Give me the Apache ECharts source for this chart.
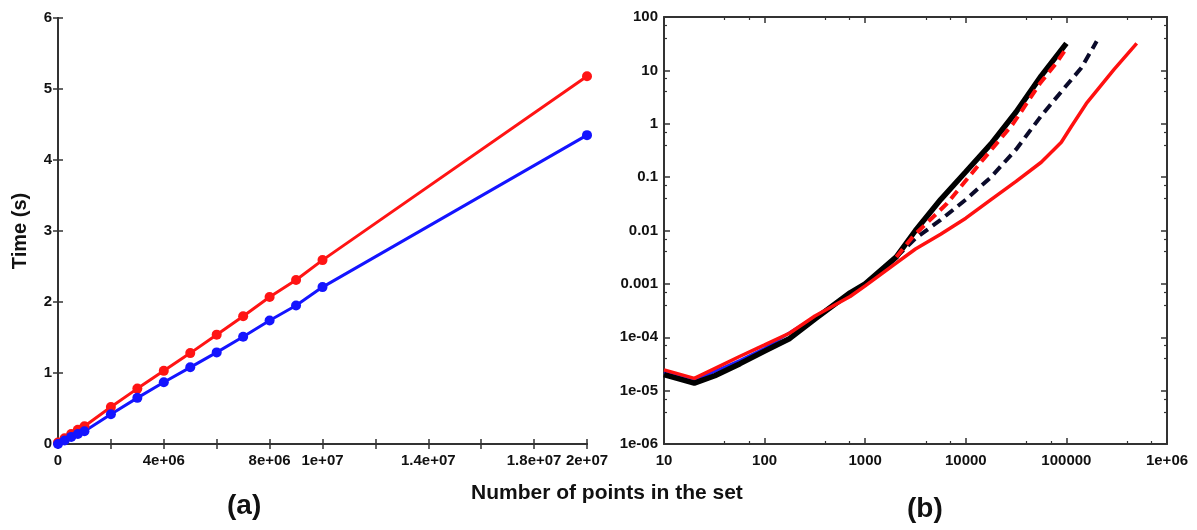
<!DOCTYPE html>
<html>
<head>
<meta charset="utf-8">
<script src="https://cdn.jsdelivr.net/npm/echarts@6/dist/echarts.min.js"></script>
<style>
html,body{margin:0;padding:0;background:#fff;}
#chart{width:1197px;height:530px;}
</style>
</head>
<body>
<div id="chart"></div>
<script>
// ---------- Panel (a): linear ----------
var xA = [0, 250000, 500000, 750000, 1000000, 2000000, 3000000, 4000000, 5000000, 6000000, 7000000, 8000000, 9000000, 10000000, 20000000];
var redA = [0.02, 0.08, 0.14, 0.2, 0.25, 0.52, 0.78, 1.03, 1.28, 1.54, 1.80, 2.07, 2.31, 2.59, 5.18];
var blueA = [0.0, 0.05, 0.1, 0.14, 0.18, 0.42, 0.65, 0.87, 1.08, 1.29, 1.51, 1.74, 1.95, 2.21, 4.35];
var xTickValsA = [0, 4000000, 8000000, 10000000, 14000000, 18000000, 20000000];
var xTickLabelsA = ['0', '4e+06', '8e+06', '1e+07', '1.4e+07', '1.8e+07', '2e+07'];

// ---------- Panel (b): log-log ----------
var blackSolidX = [10, 20, 32, 57, 100, 178, 316, 708, 1000, 2040, 3160, 5620, 10000, 17800, 31600, 56200, 100000];
var blackSolidY = [2.0e-5, 1.38e-5, 1.9e-5, 3.2e-5, 5.5e-5, 9.5e-5, 2.2e-4, 6.8e-4, 1.0e-3, 3.2e-3, 1.0e-2, 3.8e-2, 0.126, 0.42, 1.66, 7.9, 32];
var redSolidX = [10, 20, 57, 100, 178, 316, 708, 1000, 2000, 3160, 5620, 10000, 17800, 31600, 56200, 89000, 112000, 158000, 295000, 500000];
var redSolidY = [2.45e-5, 1.7e-5, 4.4e-5, 7.2e-5, 1.2e-4, 2.5e-4, 5.8e-4, 9.2e-4, 2.4e-3, 4.5e-3, 8.5e-3, 1.7e-2, 3.8e-2, 8.3e-2, 0.19, 0.45, 0.89, 2.4, 10.2, 32];
var blueSolidX = [10, 20, 57, 100, 316, 1000, 2000];
var blueSolidY = [2.2e-5, 1.55e-5, 3.7e-5, 6.2e-5, 2.4e-4, 1.0e-3, 2.9e-3];
var redDashX = [2040, 3000, 6500, 13800, 29500, 55000, 79000, 100000];
var redDashY = [3.2e-3, 7.8e-3, 3.2e-2, 0.18, 1.0, 5.8, 13.5, 26];
var navyDashX = [2040, 3160, 5620, 10000, 17800, 31600, 56200, 100000, 141000, 200000];
var navyDashY = [3.2e-3, 7.1e-3, 1.58e-2, 3.8e-2, 0.1, 0.33, 1.41, 5.2, 11.2, 35];
var xLabelsB = ['10', '100', '1000', '10000', '100000', '1e+06'];
var yLabelsB = ['1e-06', '1e-05', '1e-04', '0.001', '0.01', '0.1', '1', '10', '100'];

function pairs(xs, ys) { return xs.map(function (x, i) { return [x, ys[i]]; }); }

var FONT = '"Liberation Sans", Arial, sans-serif';
var axisLineStyle = { color: '#333', width: 2 };
var labelStyle = { fontFamily: FONT, fontWeight: 'bold', fontSize: 15, color: '#111' };
var tickStyle = { inside: true, length: 5, lineStyle: { color: '#333', width: 1.5 } };
var logTick = { inside: true, length: 6, lineStyle: { color: '#333', width: 1.5 } };
var minor = { show: true, splitNumber: 3, length: 3, lineStyle: { color: '#333', width: 1.2 } };

var chart = echarts.init(document.getElementById('chart'), null, { renderer: 'canvas' });

var option = {
  animation: false,
  backgroundColor: '#fff',
  grid: [
    { left: 58, top: 18, width: 529, height: 426 },
    { left: 664, top: 17, width: 503, height: 427 }
  ],
  xAxis: [
    {
      gridIndex: 0, type: 'value', min: 0, max: 20000000, interval: 2000000,
      axisLine: { lineStyle: axisLineStyle }, splitLine: { show: false }, axisTick: tickStyle,
      axisLabel: Object.assign({ margin: 9, formatter: function (v) {
        var i = xTickValsA.indexOf(Math.round(v));
        return i >= 0 ? xTickLabelsA[i] : '';
      } }, labelStyle)
    },
    {
      gridIndex: 0, type: 'value', position: 'top', min: 0, max: 20000000, interval: 2000000,
      axisLine: { lineStyle: axisLineStyle }, splitLine: { show: false }, axisTick: tickStyle,
      axisLabel: { show: false }
    },
    {
      gridIndex: 1, type: 'log', logBase: 10, min: 10, max: 1000000,
      axisLine: { lineStyle: axisLineStyle }, splitLine: { show: false }, axisTick: logTick, minorTick: minor,
      axisLabel: Object.assign({ margin: 9, formatter: function (v) {
        var e = Math.round(Math.log(v) / Math.LN10);
        return xLabelsB[e - 1] || '';
      } }, labelStyle)
    },
    {
      gridIndex: 1, type: 'log', logBase: 10, min: 10, max: 1000000, position: 'top',
      axisLine: { lineStyle: axisLineStyle }, splitLine: { show: false }, axisTick: logTick, minorTick: minor,
      axisLabel: { show: false }
    }
  ],
  yAxis: [
    {
      gridIndex: 0, type: 'value', min: 0, max: 6, interval: 1,
      name: 'Time (s)', nameLocation: 'middle', nameGap: 28,
      nameTextStyle: { fontFamily: FONT, fontWeight: 'bold', fontSize: 20, color: '#111' },
      axisLine: { lineStyle: axisLineStyle }, splitLine: { show: false }, axisTick: tickStyle,
      axisLabel: Object.assign({ margin: 6 }, labelStyle)
    },
    {
      gridIndex: 0, type: 'value', position: 'right', min: 0, max: 6, interval: 1,
      axisLine: { lineStyle: axisLineStyle }, splitLine: { show: false }, axisTick: tickStyle,
      axisLabel: { show: false }
    },
    {
      gridIndex: 1, type: 'log', logBase: 10, min: 1e-6, max: 100,
      axisLine: { lineStyle: axisLineStyle }, splitLine: { show: false }, axisTick: logTick, minorTick: minor,
      axisLabel: Object.assign({ margin: 6, formatter: function (v) {
        var e = Math.round(Math.log(v) / Math.LN10);
        return yLabelsB[e + 6] || '';
      } }, labelStyle)
    },
    {
      gridIndex: 1, type: 'log', logBase: 10, min: 1e-6, max: 100, position: 'right',
      axisLine: { lineStyle: axisLineStyle }, splitLine: { show: false }, axisTick: logTick, minorTick: minor,
      axisLabel: { show: false }
    }
  ],
  series: [
    {
      type: 'line', xAxisIndex: 0, yAxisIndex: 0, data: pairs(xA, redA),
      symbol: 'circle', symbolSize: 10, itemStyle: { color: '#ff1414' },
      lineStyle: { color: '#ff1414', width: 3 }
    },
    {
      type: 'line', xAxisIndex: 0, yAxisIndex: 0, data: pairs(xA, blueA),
      symbol: 'circle', symbolSize: 10, itemStyle: { color: '#1414ff' },
      lineStyle: { color: '#1414ff', width: 3 }
    },
    {
      type: 'line', xAxisIndex: 2, yAxisIndex: 2, data: pairs(navyDashX, navyDashY),
      symbol: 'none', lineStyle: { color: '#0a0a2a', width: 4, type: [10, 6] }
    },
    {
      type: 'line', xAxisIndex: 2, yAxisIndex: 2, data: pairs(blueSolidX, blueSolidY),
      symbol: 'none', lineStyle: { color: '#2020ff', width: 3 }
    },
    {
      type: 'line', xAxisIndex: 2, yAxisIndex: 2, data: pairs(blackSolidX, blackSolidY),
      symbol: 'none', lineStyle: { color: '#000', width: 5.5 }
    },
    {
      type: 'line', xAxisIndex: 2, yAxisIndex: 2, data: pairs(redDashX, redDashY),
      symbol: 'none', lineStyle: { color: '#ff1010', width: 4, type: [10, 6] }
    },
    {
      type: 'line', xAxisIndex: 2, yAxisIndex: 2, data: pairs(redSolidX, redSolidY),
      symbol: 'none', lineStyle: { color: '#ff1010', width: 3.5 }
    }
  ],
  graphic: [
    { type: 'text', left: 471, top: 483, style: { text: 'Number of points in the set', font: 'bold 21px ' + FONT, fill: '#111' } },
    { type: 'text', left: 227, top: 492, style: { text: '(a)', font: 'bold 28px ' + FONT, fill: '#111' } },
    { type: 'text', left: 907, top: 495, style: { text: '(b)', font: 'bold 28px ' + FONT, fill: '#111' } }
  ]
};
chart.setOption(option);
</script>
</body>
</html>
